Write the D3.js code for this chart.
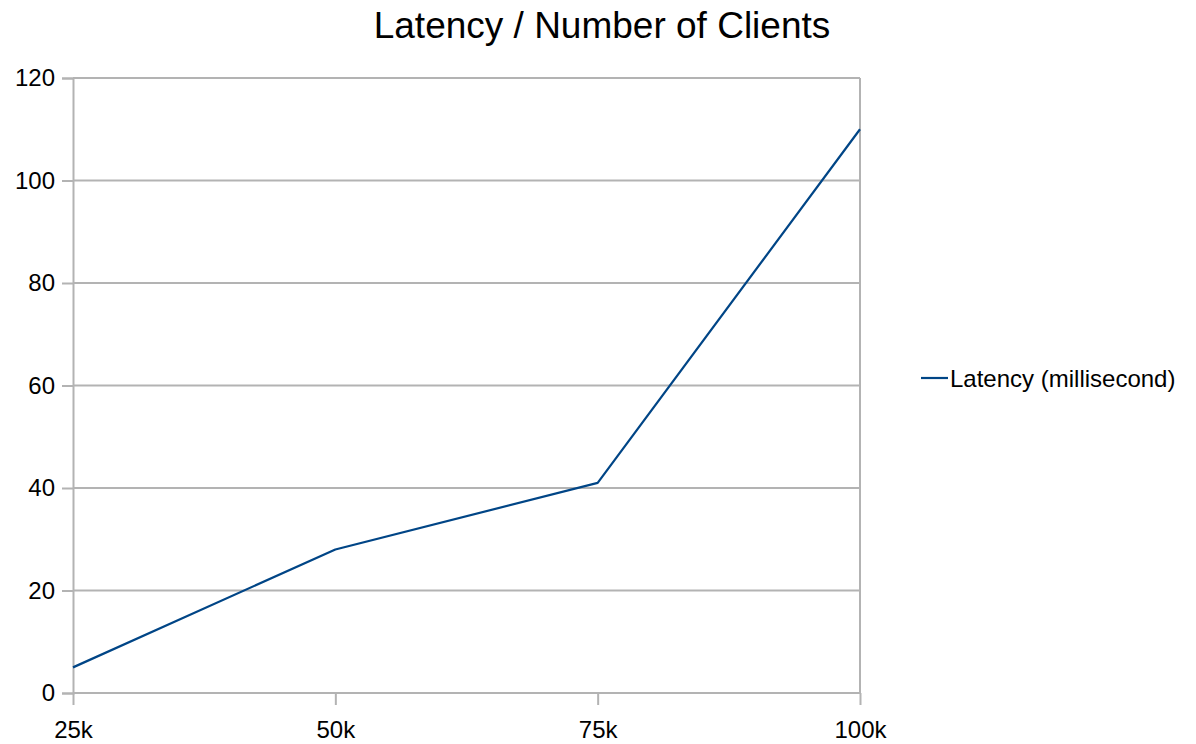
<!DOCTYPE html>
<html>
<head>
<meta charset="utf-8">
<script src="https://cdn.jsdelivr.net/npm/d3@7"></script>
<style>
  html, body { margin: 0; padding: 0; background: #ffffff; }
  svg { display: block; font-family: "Liberation Sans", Arial, sans-serif; }
</style>
</head>
<body>
<svg id="chart" width="1196" height="744"></svg>
<script>
// Latency measured for each client count
const clients = ["25k", "50k", "75k", "100k"];
const latency = [5, 28, 41, 110];
const yTicks = [0, 20, 40, 60, 80, 100, 120];
const seriesName = "Latency (millisecond)";
const chartTitle = "Latency / Number of Clients";

const svg = d3.select("#chart");
const margin = { left: 73, right: 336, top: 78, bottom: 51 };
const W = 1196, H = 744;
const lineColor = "#004586";
const gridColor = "#b3b3b3";

const x = d3.scalePoint().domain(clients).range([margin.left, W - margin.right]);
const y = d3.scaleLinear().domain([0, 120]).range([H - margin.bottom, margin.top]);

// Title
svg.append("text")
  .attr("x", 602).attr("y", 38)
  .attr("text-anchor", "middle")
  .attr("font-size", 37)
  .attr("fill", "#000")
  .text(chartTitle);

// Horizontal gridlines
svg.append("g").selectAll("line").data(yTicks.filter(d => d > 0)).join("line")
  .attr("x1", margin.left).attr("x2", W - margin.right)
  .attr("y1", d => y(d)).attr("y2", d => y(d))
  .attr("stroke", gridColor).attr("stroke-width", 2);

// Right border of the plot area
svg.append("line")
  .attr("x1", W - margin.right).attr("x2", W - margin.right)
  .attr("y1", y(120)).attr("y2", y(0))
  .attr("stroke", gridColor).attr("stroke-width", 2);

// Y axis
const yAxis = svg.append("g")
  .attr("transform", `translate(${margin.left},0)`)
  .call(d3.axisLeft(y).tickValues(yTicks).tickSize(11).tickPadding(7).tickFormat(d3.format("d")));
yAxis.select(".domain").attr("stroke", gridColor).attr("stroke-width", 2);
yAxis.selectAll(".tick line").attr("stroke", gridColor).attr("stroke-width", 2);
yAxis.selectAll(".tick text").attr("font-size", 24).attr("fill", "#000")
  .attr("font-family", "Liberation Sans, Arial, sans-serif");

// X axis
const xAxis = svg.append("g")
  .attr("transform", `translate(0,${y(0)})`)
  .call(d3.axisBottom(x).tickSize(12).tickPadding(16));
xAxis.select(".domain").attr("stroke", gridColor).attr("stroke-width", 2)
  .attr("d", `M${margin.left},0H${W - margin.right}`);
xAxis.selectAll(".tick line").attr("stroke", gridColor).attr("stroke-width", 2);
xAxis.selectAll(".tick text").attr("font-size", 24).attr("fill", "#000")
  .attr("font-family", "Liberation Sans, Arial, sans-serif");

// Data line
const line = d3.line().x((d, i) => x(clients[i])).y(d => y(d));
svg.append("path")
  .datum(latency)
  .attr("d", line)
  .attr("fill", "none")
  .attr("stroke", lineColor)
  .attr("stroke-width", 2.2)
  .attr("stroke-linejoin", "round");

// Legend
const legend = svg.append("g").attr("transform", "translate(921,378)");
legend.append("line")
  .attr("x1", 0).attr("x2", 27).attr("y1", 0).attr("y2", 0)
  .attr("stroke", lineColor).attr("stroke-width", 2.2);
legend.append("text")
  .attr("x", 29).attr("y", 9)
  .attr("font-size", 24).attr("fill", "#000")
  .text(seriesName);
</script>
</body>
</html>
